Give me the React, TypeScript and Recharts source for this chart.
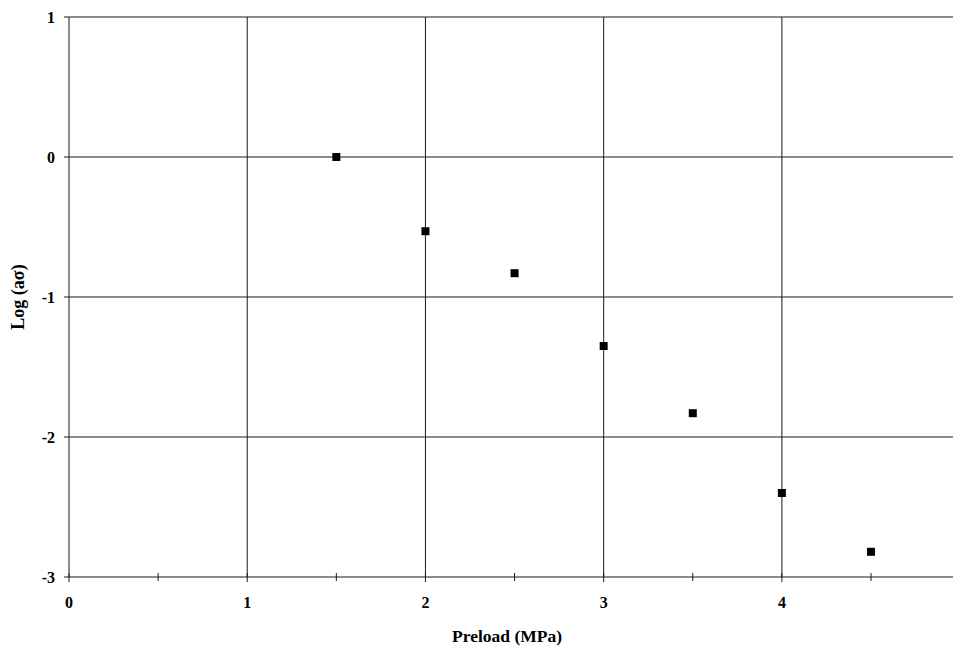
import { ReferenceLine, Scatter, ScatterChart, XAxis, YAxis, Label } from 'recharts'

const preload = [1.5, 2, 2.5, 3, 3.5, 4, 4.5]
const logA = [0, -0.53, -0.83, -1.35, -1.83, -2.4, -2.82]
const xTicks = [0, 0.5, 1, 1.5, 2, 2.5, 3, 3.5, 4, 4.5]
const xGrid = [1, 2, 3, 4]
const yTicks = [-3, -2, -1, 0, 1]
const yGrid = [-2, -1, 0, 1]

const data = preload.map((x, i) => ({ x, y: logA[i] }))

const font = '"Liberation Serif", "DejaVu Serif", serif'
const ink = '#1a1a1a'

function XTick({ x, y, payload }: any) {
  const v = payload.value
  const major = Number.isInteger(v)
  return (
    <g>
      <line x1={x} x2={x} y1={y - 4} y2={y + (major ? 5 : 4)} stroke={ink} strokeWidth={1} />
      {major && (
        <text x={x} y={y + 25} textAnchor="middle" dominantBaseline="central" fontFamily={font} fontWeight={700} fontSize={16} fill="#000">
          {v}
        </text>
      )}
    </g>
  )
}

function YTick({ x, y, payload }: any) {
  return (
    <text x={x} y={y} textAnchor="end" dominantBaseline="central" fontFamily={font} fontWeight={700} fontSize={16} fill="#000">
      {payload.value}
    </text>
  )
}

function Square({ cx, cy }: any) {
  return <rect x={cx - 4} y={cy - 4} width={8} height={8} fill="#000" />
}

export default function App() {
  return (
    <div style={{ position: 'absolute', left: 0, top: 0, width: 954, height: 652, background: '#fff' }}>
      <ScatterChart width={954} height={652} margin={{ top: 17, right: 1, bottom: 0, left: 9 }}>
        <XAxis
          type="number"
          dataKey="x"
          domain={[0, 4.96]}
          ticks={xTicks}
          interval={0}
          height={75}
          axisLine={{ stroke: ink }}
          tickLine={false}
          tickSize={0}
          tickMargin={0}
          tick={<XTick />}
          allowDataOverflow
        >
          <Label
            content={({ viewBox }: any) => (
              <text
                x={viewBox.x + viewBox.width / 2 - 4}
                y={636}
                textAnchor="middle"
                dominantBaseline="central"
                fontFamily={font}
                fontWeight={700}
                fontSize={17.5}
                fill="#000"
              >
                Preload (MPa)
              </text>
            )}
          />
        </XAxis>
        <YAxis
          type="number"
          dataKey="y"
          domain={[-3, 1]}
          ticks={yTicks}
          interval={0}
          width={60}
          axisLine={{ stroke: ink }}
          tickLine={{ stroke: ink }}
          tickSize={5}
          tickMargin={9}
          tick={<YTick />}
        >
          <Label
            content={({ viewBox }: any) => {
              const cy = viewBox.y + viewBox.height / 2
              return (
                <text
                  x={18}
                  y={cy}
                  transform={`rotate(-90, 18, ${cy})`}
                  textAnchor="middle"
                  dominantBaseline="central"
                  fontFamily={font}
                  fontWeight={700}
                  fontSize={18}
                  fill="#000"
                >
                  Log (aσ)
                </text>
              )
            }}
          />
        </YAxis>
        {xGrid.map((v) => (
          <ReferenceLine key={`x${v}`} x={v} stroke={ink} strokeWidth={1} />
        ))}
        {yGrid.map((v) => (
          <ReferenceLine key={`y${v}`} y={v} stroke={ink} strokeWidth={1} />
        ))}
        <Scatter data={data} shape={<Square />} isAnimationActive={false} />
      </ScatterChart>
    </div>
  )
}
